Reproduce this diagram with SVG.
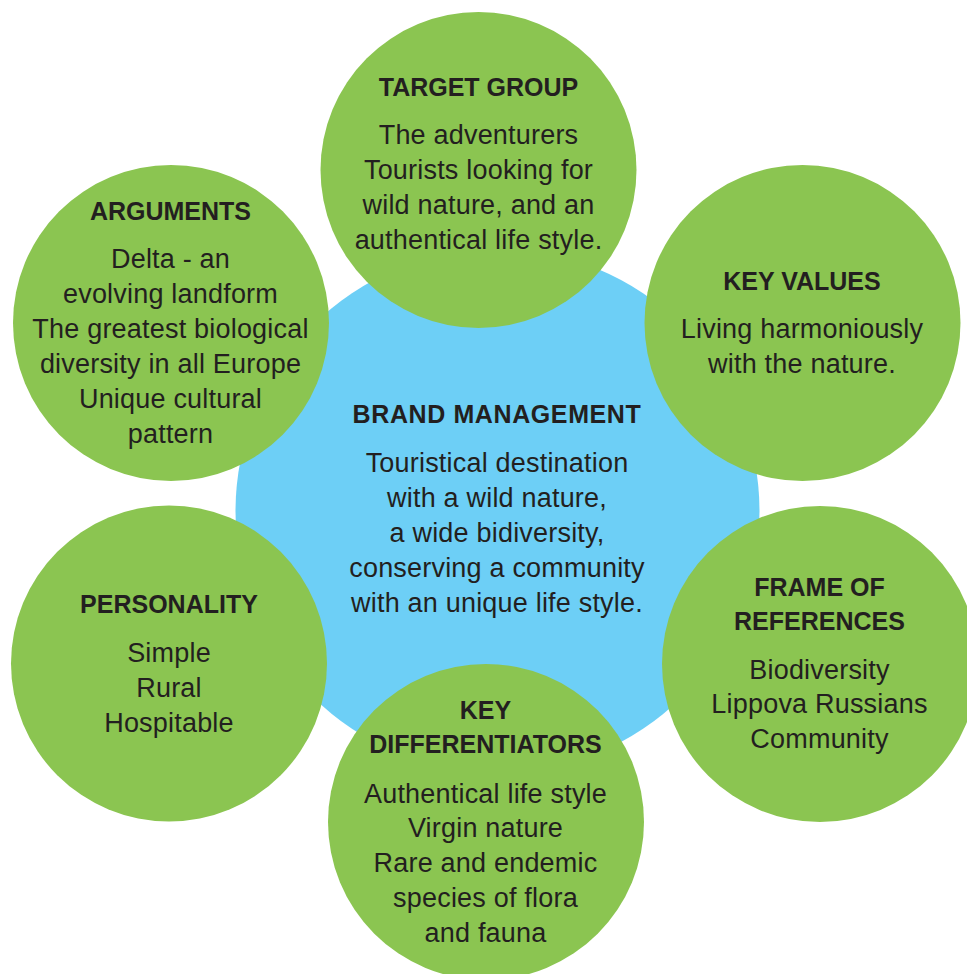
<svg xmlns="http://www.w3.org/2000/svg" width="967" height="974" viewBox="0 0 967 974">
<style>
.bg{fill:#FFFFFF}
.hub{fill:#6DCFF6}
.leaf{fill:#8BC551}
text{font-family:"Liberation Sans",Arial,sans-serif;fill:#231F20;text-anchor:middle}
.h{font-weight:bold;font-size:25px}
.b{font-size:27px;letter-spacing:0.2px}
</style>
<rect class="bg" x="0" y="0" width="967" height="974"/>
<g id="connectors"/>
<g id="brand-management">
<circle class="hub" cx="497.5" cy="511" r="262"/>
<text class="h" x="497" y="423" style="letter-spacing:0.6px">BRAND MANAGEMENT</text>
<text class="b" x="497" y="472">Touristical destination</text>
<text class="b" x="497" y="507">with a wild nature,</text>
<text class="b" x="497" y="542">a wide bidiversity,</text>
<text class="b" x="497" y="577">conserving a community</text>
<text class="b" x="497" y="612">with an unique life style.</text>
</g>
<g id="target-group">
<circle class="leaf" cx="478.5" cy="170" r="158"/>
<text class="h" x="478.5" y="96">TARGET GROUP</text>
<text class="b" x="478.5" y="144">The adventurers</text>
<text class="b" x="478.5" y="179">Tourists looking for</text>
<text class="b" x="478.5" y="214">wild nature, and an</text>
<text class="b" x="478.5" y="249">authentical life style.</text>
</g>
<g id="arguments">
<circle class="leaf" cx="171" cy="323" r="158"/>
<text class="h" x="170.5" y="220">ARGUMENTS</text>
<text class="b" x="170.5" y="268">Delta - an</text>
<text class="b" x="170.5" y="303">evolving landform</text>
<text class="b" x="170.5" y="338">The greatest biological</text>
<text class="b" x="170.5" y="373">diversity in all Europe</text>
<text class="b" x="170.5" y="408">Unique cultural</text>
<text class="b" x="170.5" y="443">pattern</text>
</g>
<g id="key-values">
<circle class="leaf" cx="802.5" cy="323" r="158"/>
<text class="h" x="802" y="290">KEY VALUES</text>
<text class="b" x="802" y="338">Living harmoniously</text>
<text class="b" x="802" y="373">with the nature.</text>
</g>
<g id="personality">
<circle class="leaf" cx="169" cy="663.5" r="158"/>
<text class="h" x="169" y="613">PERSONALITY</text>
<text class="b" x="169" y="662">Simple</text>
<text class="b" x="169" y="697">Rural</text>
<text class="b" x="169" y="732">Hospitable</text>
</g>
<g id="frame-of-references">
<circle class="leaf" cx="820" cy="664" r="158"/>
<text class="h" x="819.5" y="596">FRAME OF</text>
<text class="h" x="819.5" y="630">REFERENCES</text>
<text class="b" x="819.5" y="679">Biodiversity</text>
<text class="b" x="819.5" y="713">Lippova Russians</text>
<text class="b" x="819.5" y="748">Community</text>
</g>
<g id="key-differentiators">
<circle class="leaf" cx="486" cy="822" r="158"/>
<text class="h" x="485.5" y="719">KEY</text>
<text class="h" x="485.5" y="753">DIFFERENTIATORS</text>
<text class="b" x="485.5" y="803">Authentical life style</text>
<text class="b" x="485.5" y="837">Virgin nature</text>
<text class="b" x="485.5" y="872">Rare and endemic</text>
<text class="b" x="485.5" y="907">species of flora</text>
<text class="b" x="485.5" y="942">and fauna</text>
</g>
</svg>
